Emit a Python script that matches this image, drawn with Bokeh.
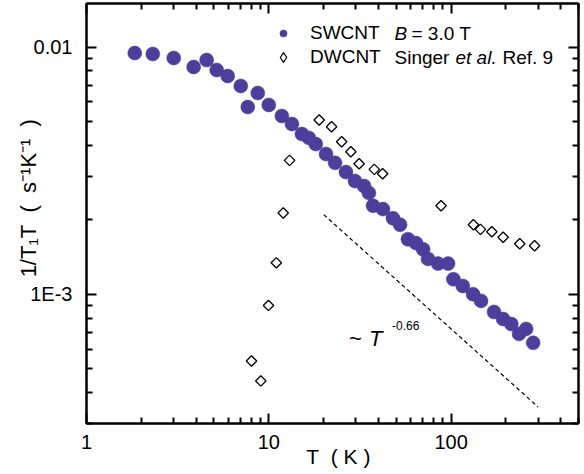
import numpy as np
from bokeh.plotting import figure
from bokeh.models import LogAxis, FixedTicker, Label, Legend, LegendItem, Range1d
from bokeh.embed import file_html
from bokeh.resources import INLINE

# ---- data ----
sw_T = [1.84, 2.31, 3.01, 3.87, 4.56, 5.18, 5.95, 7.02, 7.67, 8.70, 10.0, 11.8,
        13.4, 15.2, 16.6, 18.1, 20.6, 23.1, 26.5, 29.7, 33.3, 35.4, 37.3, 42.3,
        48.0, 52.5, 58.0, 64.2, 70.2, 74.7, 84.8, 96.3, 103, 116, 132, 146,
        172, 193, 214, 236, 258, 282]
sw_rate = [0.00946, 0.00937, 0.00903, 0.0083, 0.00886, 0.00807, 0.00763, 0.00696,
           0.00572, 0.00652, 0.00583, 0.00526, 0.00488, 0.00445, 0.00429, 0.00405,
           0.00369, 0.0034, 0.00312, 0.00287, 0.00274, 0.00257, 0.00228, 0.00221,
           0.00203, 0.00191, 0.00167, 0.00161, 0.00152, 0.00139, 0.00133, 0.00133,
           0.00115, 0.00108, 0.00100, 0.00094, 0.000848, 0.000794, 0.000758,
           0.000691, 0.000724, 0.000636]

dw_T = [8.04, 9.04, 9.96, 11.0, 12.0, 13.0, 18.9, 22.1, 25.1, 28.2, 31.3, 37.9,
        42.1, 88.1, 132.6, 144.9, 167.3, 193, 238, 287]
dw_rate = [0.000537, 0.000446, 0.000901, 0.00134, 0.00213, 0.00348, 0.00507,
           0.00476, 0.00414, 0.00377, 0.00337, 0.0032, 0.00307, 0.00228, 0.00191,
           0.00183, 0.00179, 0.0017, 0.0016, 0.00157]

fit_T = [20, 300]
fit_rate = [2.1e-3, 3.5e-4]

x_major = [1, 10, 100]
x_major_labels = ["1", "10", "100"]
x_minor = [2, 3, 4, 5, 6, 7, 8, 9, 20, 30, 40, 50, 60, 70, 80, 90, 200, 300, 400, 500]
y_major = [0.001, 0.01]
y_major_labels = ["1E-3", "0.01"]
y_minor = [0.0003, 0.0004, 0.0005, 0.0006, 0.0007, 0.0008, 0.0009,
           0.002, 0.003, 0.004, 0.005, 0.006, 0.007, 0.008, 0.009]

legend_names = ["SWCNT", "DWCNT"]
NB = "\u00a0"  # non-collapsing space (SVG collapses ordinary runs of spaces)
x_title = NB * 2 + "T" + NB * 2 + "(" + NB + "K" + NB + ")"
y_title = (NB * 5 + "1/T\u2081T" + NB * 2 + "(" + NB * 2 + "s\u207b\u00b9K\u207b\u00b9"
           + NB * 2 + ")")

FONT = "Liberation Sans"
PURPLE = "#4b3f9b"

W, H = 584, 474
FX0, FX1, FY0, FY1 = 86, 578, 423, 3  # frame edges in page pixels

p = figure(width=W, height=H, x_axis_type="log", y_axis_type="log",
           x_range=Range1d(1, 500), y_range=Range1d(3e-4, 0.015),
           output_backend="svg", toolbar_location=None,
           min_border_left=FX0, min_border_right=W - FX1, min_border_top=FY1,
           min_border_bottom=H - FY0)
p.xgrid.visible = False
p.ygrid.visible = False
p.outline_line_color = "black"
p.outline_line_width = 2
p.background_fill_color = "white"
p.border_fill_color = "white"

xt = FixedTicker(ticks=x_major, minor_ticks=x_minor)
yt = FixedTicker(ticks=y_major, minor_ticks=y_minor)


def style_axis(ax):
    ax.axis_line_width = 2
    ax.axis_line_color = "black"
    ax.major_tick_in = 10
    ax.major_tick_out = 0
    ax.minor_tick_in = 6
    ax.minor_tick_out = 0
    ax.major_tick_line_width = 2
    ax.minor_tick_line_width = 2
    ax.major_label_text_font = FONT
    ax.major_label_text_color = "black"
    ax.major_label_text_font_size = "20px"
    ax.axis_label_text_font = FONT
    ax.axis_label_text_font_style = "normal"
    ax.axis_label_text_color = "black"


p.xaxis.ticker = xt
p.yaxis.ticker = yt
p.xaxis.major_label_overrides = dict(zip(x_major, x_major_labels))
p.yaxis.major_label_overrides = dict(zip(y_major, y_major_labels))
style_axis(p.xaxis[0])
style_axis(p.yaxis[0])
p.xaxis.major_label_standoff = 11
p.yaxis.major_label_standoff = 14
p.xaxis.axis_label = x_title
p.yaxis.axis_label = y_title
p.xaxis.axis_label_text_font_size = "21px"
p.yaxis.axis_label_text_font_size = "22px"
p.xaxis.axis_label_standoff = -7
p.yaxis.axis_label_standoff = -14

top = LogAxis(ticker=xt)
right = LogAxis(ticker=yt)
for ax, ticks in ((top, x_major), (right, y_major)):
    style_axis(ax)
    ax.major_label_text_font_size = "1px"
    ax.major_label_standoff = 0
    ax.major_label_overrides = {t: "" for t in ticks}
p.add_layout(top, "above")
p.add_layout(right, "right")

# data
r_sw = p.scatter(sw_T, sw_rate, size=14, marker="circle", fill_color=PURPLE,
                 line_color=PURPLE, line_width=0.5)
r_dw = p.scatter(dw_T, dw_rate, size=7.4, marker="square", angle=np.pi / 4,
                 fill_color=None, line_color="black", line_width=1.3)
p.line(fit_T, fit_rate, line_color="black", line_width=1.2, line_dash="4 3")

# legend key for the open diamonds (zero-size markers: only the key is seen)
r_dw_key = p.scatter(dw_T, dw_rate, marker="diamond", size=0, fill_color=None,
                     line_color="black", line_width=1.2)


def make_legend(name, rend, gw, row_center):
    return Legend(items=[LegendItem(label=name, renderers=[rend])],
                  location=(283 - gw // 2 - FX0, FY0 - row_center - 12),
                  padding=0, margin=0, spacing=0,
                  glyph_width=gw, glyph_height=24, label_height=24,
                  label_standoff=310 - 283 - gw // 2, border_line_color=None,
                  background_fill_alpha=0,
                  label_text_font=FONT, label_text_font_size="19px",
                  label_text_color="black")


row1, row2 = 33, 57
p.add_layout(make_legend(legend_names[0], r_sw, 18, row1), "center")
p.add_layout(make_legend(legend_names[1], r_dw_key, 26, row2), "center")


def lab(text, x, y, size, italic=False):
    p.add_layout(Label(x=x - FX0, y=FY0 - y, x_units="screen", y_units="screen",
                       text=text, text_font=FONT, text_font_size=f"{size}px",
                       text_font_style="italic" if italic else "normal",
                       text_color="black", text_baseline="middle"))


# legend text tails
lab("B", 394, row1, 19, italic=True)
lab("= 3.0 T", 411, row1, 19)
lab("Singer", 394, row2, 19)
lab("et al.", 455, row2, 19, italic=True)
lab("Ref. 9", 502, row2, 19)

# power-law annotation placed in data units
ann = [("~", 27.5, 6.6e-4, 22, "normal"), ("T", 35.5, 6.6e-4, 22, "italic"),
       ("-0.66", 47.4, 7.45e-4, 12, "normal")]
for t, xv, yv, s, st in ann:
    p.add_layout(Label(x=xv, y=yv, text=t, text_font=FONT, text_font_size=f"{s}px",
                       text_font_style=st, text_color="black",
                       text_baseline="alphabetic"))

open("out.html", "w").write(file_html(p, INLINE))
